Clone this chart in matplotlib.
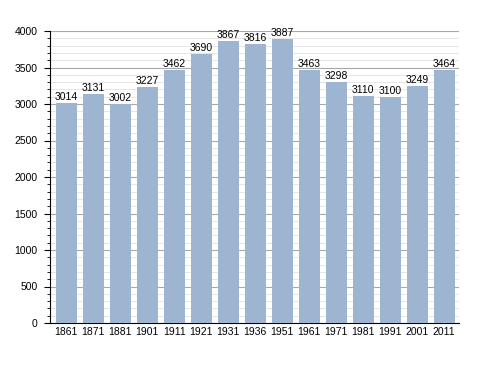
import numpy as np
import matplotlib
matplotlib.use("Agg")
from matplotlib import pyplot as plt
from matplotlib.ticker import MultipleLocator

plt.rcParams["font.family"] = ["Liberation Sans", "DejaVu Sans"]

years = ["1861", "1871", "1881", "1901", "1911", "1921", "1931", "1936",
         "1951", "1961", "1971", "1981", "1991", "2001", "2011"]
population = [3014, 3131, 3002, 3227, 3462, 3690, 3867, 3816,
              3887, 3463, 3298, 3110, 3100, 3249, 3464]

fig = plt.figure(figsize=(4.88, 3.73), dpi=100)
ax = fig.add_axes([50 / 488, 50 / 373, 409 / 488, 292 / 373])

x = np.arange(len(years))
ax.bar(x, population, width=0.78, color="#9eb5d1", zorder=3)
for xi, v in zip(x, population):
    ax.text(xi, v + 15, str(v), ha="center", va="bottom", fontsize=7.5, zorder=4)

ax.set_xlim(-0.6, len(years) - 0.45)
ax.set_ylim(0, 4000)
ax.set_xticks(x)
ax.set_xticklabels(years, fontsize=7.5)
ax.yaxis.set_major_locator(MultipleLocator(500))
ax.yaxis.set_minor_locator(MultipleLocator(100))
ax.tick_params(axis="y", labelsize=7.5, length=4, width=0.8, pad=5)
ax.tick_params(axis="y", which="minor", length=2.5, width=0.6)
ax.tick_params(axis="x", length=0, pad=3)
ax.grid(axis="y", which="major", color="#a8a8a8", linewidth=0.8, zorder=0)
ax.grid(axis="y", which="minor", color="#e2e2e2", linewidth=0.6, zorder=0)
ax.spines["top"].set_visible(False)
ax.spines["right"].set_visible(False)

fig.savefig("out.png", dpi=100)
